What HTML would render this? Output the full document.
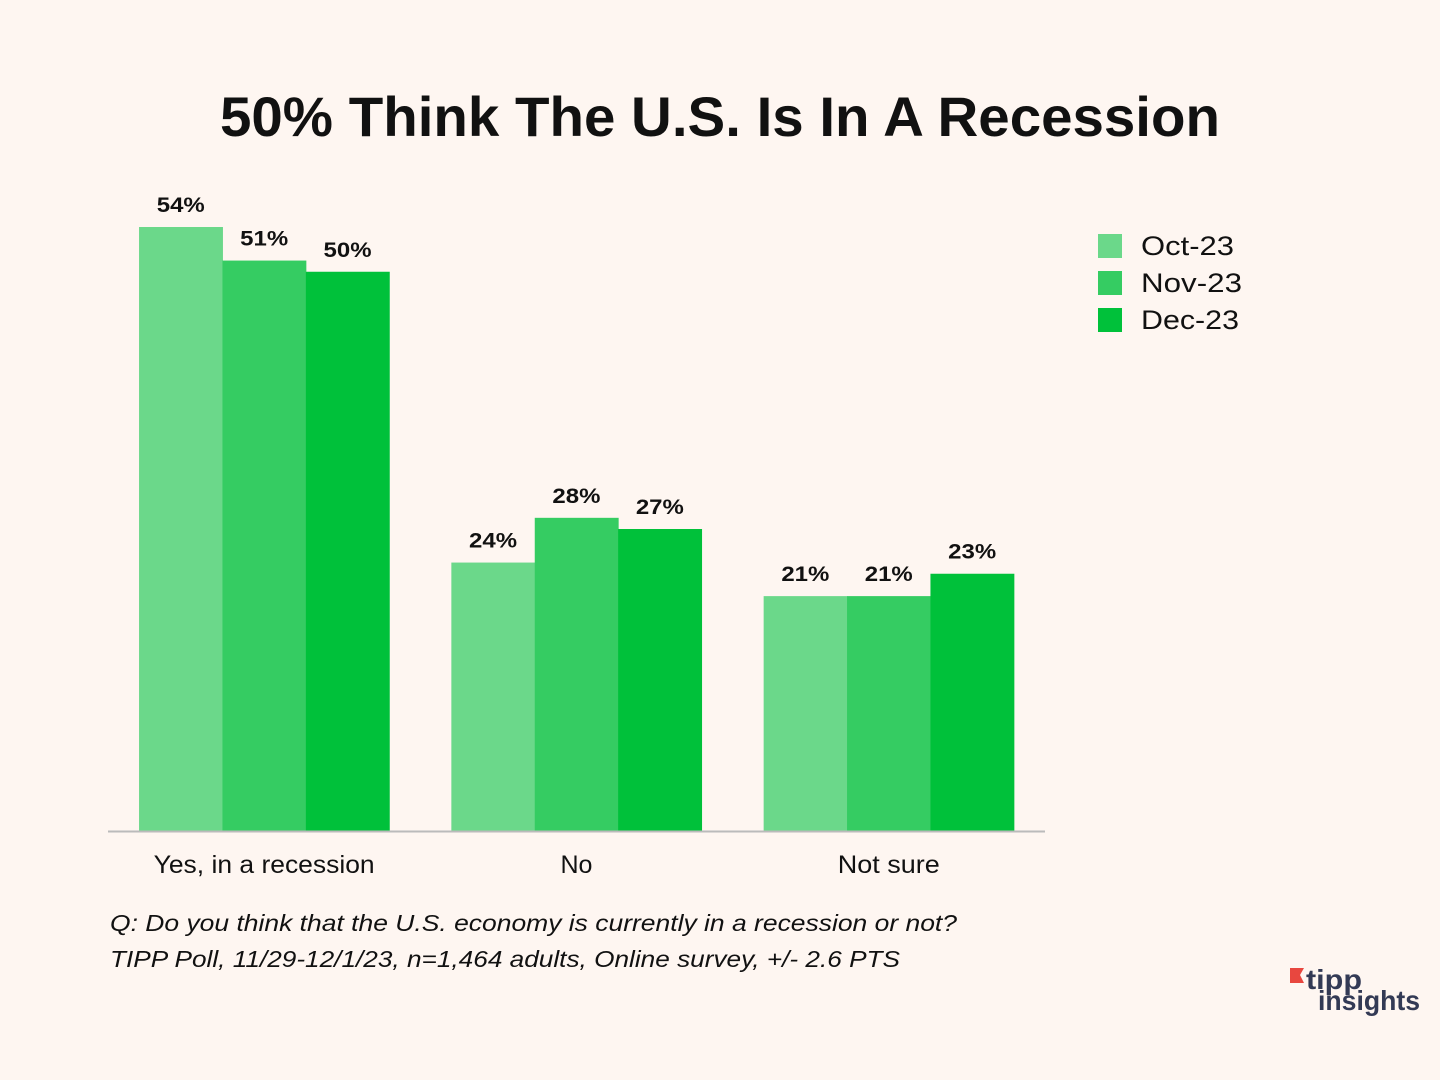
<!DOCTYPE html>
<html><head><meta charset="utf-8"><style>
body{margin:0;background:#fef6f1;}
svg{display:block;font-family:"Liberation Sans",sans-serif;}
</style></head><body>
<svg width="1440" height="1080" viewBox="0 0 1440 1080">
<rect width="1440" height="1080" fill="#fef6f1"/>
<text x="220" y="136" textLength="1000" lengthAdjust="spacingAndGlyphs" font-size="56" font-weight="bold" fill="#111">50% Think The U.S. Is In A Recession</text>
<g id="bars"></g>
<line x1="108" y1="831.5" x2="1045" y2="831.5" stroke="#bbb" stroke-width="2"/>
<g>
<rect x="1098" y="234" width="24" height="24" fill="#6bd88a"/>
<text x="1141" y="255" font-size="27" textLength="93" lengthAdjust="spacingAndGlyphs" fill="#111">Oct-23</text>
<rect x="1098" y="271" width="24" height="24" fill="#35cc62"/>
<text x="1141" y="292" font-size="27" textLength="101" lengthAdjust="spacingAndGlyphs" fill="#111">Nov-23</text>
<rect x="1098" y="308" width="24" height="24" fill="#00c13a"/>
<text x="1141" y="329" font-size="27" textLength="98" lengthAdjust="spacingAndGlyphs" fill="#111">Dec-23</text>
</g>
<text x="110" y="931" font-size="23" font-style="italic" textLength="847" lengthAdjust="spacingAndGlyphs" fill="#111">Q:  Do you think that the U.S. economy is currently in a recession or not?</text>
<text x="110" y="967" font-size="23" font-style="italic" textLength="790" lengthAdjust="spacingAndGlyphs" fill="#111">TIPP Poll, 11/29-12/1/23, n=1,464 adults, Online survey, +/- 2.6 PTS</text>
<g>
<polygon points="1290,968 1304,968 1300,975 1304,983 1290,983" fill="#e8473f"/>
<text x="1306" y="989" font-size="28" font-weight="bold" textLength="56" lengthAdjust="spacingAndGlyphs" fill="#333a55">tipp</text>
<text x="1318" y="1010" font-size="28" font-weight="bold" textLength="102" lengthAdjust="spacingAndGlyphs" fill="#333a55">insights</text>
</g>
</svg>
<script>
const categories=["Yes, in a recession","No","Not sure"];
const seriesNames=["Oct-23","Nov-23","Dec-23"];
const oct=[54,24,21];
const nov=[51,28,21];
const dec=[50,27,23];
const catLabelWidths=[221,32,102];
const colors=["#6bd88a","#35cc62","#00c13a"];
const NS="http://www.w3.org/2000/svg";
const g=document.getElementById('bars');
const base=831,scale=11.185,x0=108,catW=312.3,barW=83.4;
const yS=v=>base-v*scale;
const xS=(c,s)=>x0+c*catW+catW/2-barW*1.5+s*barW;
const all=[oct,nov,dec];
categories.forEach((cat,c)=>{
 all.forEach((ser,s)=>{
  const r=document.createElementNS(NS,'rect');
  r.setAttribute('x',xS(c,s));r.setAttribute('y',yS(ser[c]));
  r.setAttribute('width',barW+0.5);r.setAttribute('height',base-yS(ser[c]));
  r.setAttribute('fill',colors[s]);
  
  
  g.appendChild(r);
  const t=document.createElementNS(NS,'text');
  t.setAttribute('x',xS(c,s)+barW/2);t.setAttribute('y',yS(ser[c])-15);
  t.setAttribute('text-anchor','middle');t.setAttribute('font-size','21');t.setAttribute('font-weight','bold');t.setAttribute('fill','#111');
  t.setAttribute('textLength','48');t.setAttribute('lengthAdjust','spacingAndGlyphs');
  t.textContent=ser[c]+'%';
  
  
  g.appendChild(t);
 });
 const l=document.createElementNS(NS,'text');
 l.setAttribute('x',x0+c*catW+catW/2);l.setAttribute('y',873);
 l.setAttribute('text-anchor','middle');l.setAttribute('font-size','25');l.setAttribute('fill','#111');
 l.setAttribute('textLength',catLabelWidths[c]);l.setAttribute('lengthAdjust','spacingAndGlyphs');
 l.textContent=cat;
 
 
 g.appendChild(l);
});
</script>
</body></html>
